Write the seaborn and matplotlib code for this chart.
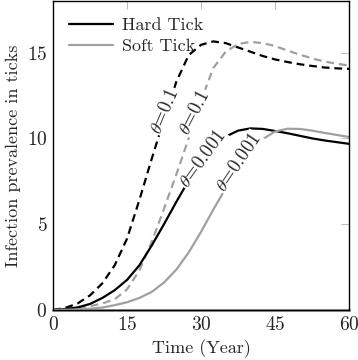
import numpy as np
import pandas as pd
import matplotlib
matplotlib.use("Agg")
import matplotlib.pyplot as plt
import seaborn as sns

# datos
years = [0, 2.5, 5, 7.5, 10, 12.5, 15, 17.5, 20, 22.5, 25, 27.5, 30,
         32.5, 35, 37.5, 40, 42.5, 45, 47.5, 50, 52.5, 55, 57.5, 60]
hard_01 = [0, 0.12, 0.38, 0.85, 1.55, 2.6, 4.15, 6.4, 8.8, 11.1, 13.3, 14.85, 15.45,
           15.65, 15.55, 15.3, 15.05, 14.8, 14.6, 14.45, 14.32, 14.22, 14.13, 14.08, 14.05]
soft_01 = [0, 0.03, 0.1, 0.22, 0.38, 0.62, 1.2, 2.3, 3.95, 5.9, 7.9, 10.0, 12.2,
           14.1, 15.05, 15.5, 15.62, 15.55, 15.38, 15.12, 14.88, 14.66, 14.48, 14.35, 14.24]
hard_0001 = [0, 0.05, 0.15, 0.35, 0.7, 1.15, 1.75, 2.6, 3.75, 5.0, 6.3, 7.55, 8.6,
             9.5, 10.1, 10.45, 10.58, 10.55, 10.43, 10.3, 10.15, 10.0, 9.88, 9.78, 9.68]
soft_0001 = [0, 0.01, 0.03, 0.07, 0.14, 0.28, 0.45, 0.7, 1.05, 1.6, 2.35, 3.35, 4.55,
             5.85, 7.1, 8.25, 9.25, 9.95, 10.4, 10.56, 10.55, 10.45, 10.32, 10.2, 10.08]

xticks = [0, 15, 30, 45, 60]
yticks = [0, 5, 10, 15]

sns.set_style("white")
plt.rcParams['font.family'] = ['cmr10', 'DejaVu Serif']
plt.rcParams['mathtext.fontset'] = 'cm'
plt.rcParams['axes.formatter.use_mathtext'] = True

df = pd.DataFrame({'t': years, 'h1': hard_01, 's1': soft_01,
                   'h2': hard_0001, 's2': soft_0001})

gris = '#a0a0a0'
dash = (0, (3.5, 2.2))

fig = plt.figure(figsize=(3.58, 3.60), dpi=100)
ax = fig.add_axes([0.148, 0.139, 0.827, 0.858])

ax.axhline(0, color=gris, lw=2.2, zorder=1, clip_on=False)
sns.lineplot(data=df, x='t', y='h1', color='black', lw=1.6, linestyle=dash, ax=ax)
sns.lineplot(data=df, x='t', y='s1', color=gris, lw=1.6, linestyle=dash, ax=ax)
sns.lineplot(data=df, x='t', y='h2', color='black', lw=1.6, ax=ax, label='Hard Tick')
sns.lineplot(data=df, x='t', y='s2', color=gris, lw=1.6, ax=ax, label='Soft Tick')

# etiquetas sobre las curvas
caja = dict(boxstyle='square,pad=0.05', fc='white', ec='none')
for tx, ty, txt, rot in [(22.7, 11.6, r'$\theta$=0.1', 67),
                         (28.8, 11.5, r'$\theta$=0.1', 63),
                         (30.4, 8.8, r'$\theta$=0.001', 54),
                         (37.6, 8.6, r'$\theta$=0.001', 56)]:
    ax.text(tx, ty, txt, rotation=rot, ha='center', va='center', fontsize=13.5,
            bbox=caja, zorder=5, rotation_mode='anchor')

ax.set_xlim(0, 60)
ax.set_ylim(0, 18)
ax.set_xticks(xticks)
ax.set_yticks(yticks)
ax.tick_params(direction='in', length=6, width=0.6, color='#b0b0b0',
               top=True, right=True, labelsize=14, pad=4)
for s in ax.spines.values():
    s.set_color('black')
    s.set_linewidth(1.0)
ax.set_xlabel('Time (Year)', fontsize=13)
ax.set_ylabel('Infection prevalence in ticks', fontsize=13)
ax.legend(loc='upper left', frameon=False, fontsize=13, handlelength=2.4,
          borderaxespad=0.5, labelspacing=0.3, handletextpad=0.5)

fig.savefig('out.png', dpi=100)
